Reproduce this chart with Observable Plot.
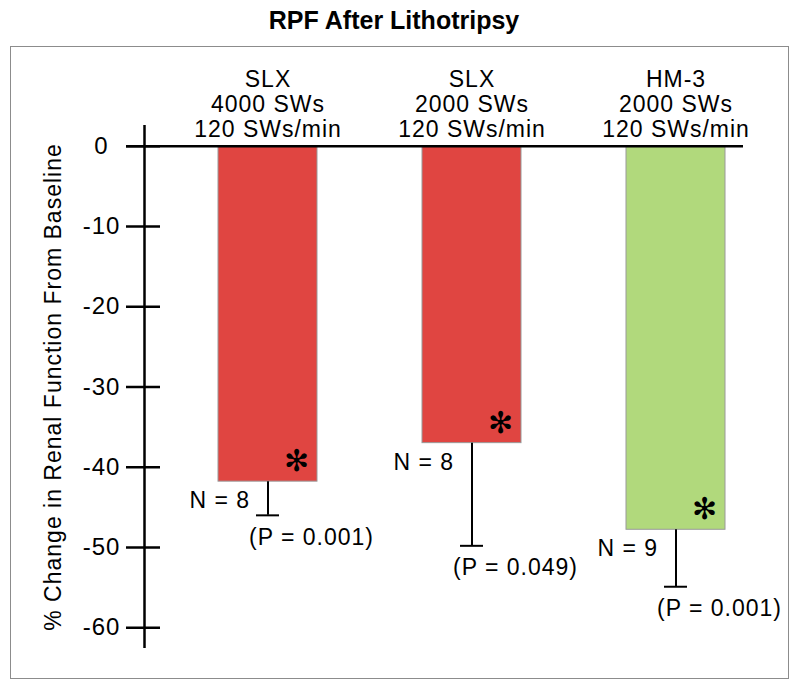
<!DOCTYPE html>
<html><head><meta charset="utf-8">
<script src="https://cdn.jsdelivr.net/npm/d3@7"></script>
<script src="https://cdn.jsdelivr.net/npm/@observablehq/plot@0.6"></script>
<style>
body{margin:0;background:#fff;}
#wrap{position:relative;width:800px;height:690px;font-family:"Liberation Sans",Arial,Helvetica,sans-serif;overflow:hidden;}
#title{position:absolute;left:-6px;top:8px;width:800px;text-align:center;font-size:25px;line-height:25px;font-weight:bold;letter-spacing:0;color:#000;}
#box{position:absolute;left:10px;top:46px;width:779px;height:633px;border:1.5px solid #8c8c8c;box-sizing:border-box;}
#chart{position:absolute;left:0;top:0;}
</style></head>
<body><div id="wrap"><div id="title">RPF After Lithotripsy</div><div id="box"></div><div id="chart"></div></div>
<script>
// ---- data ----
const machines = ["SLX", "SLX", "HM-3"];
const doses = ["4000 SWs", "2000 SWs", "2000 SWs"];
const rates = ["120 SWs/min", "120 SWs/min", "120 SWs/min"];
const means = [-41.8, -37.0, -47.8];
const errLow = [-46.0, -49.8, -54.9];
const nLabels = ["N = 8", "N = 8", "N = 9"];
const pLabels = ["(P = 0.001)", "(P = 0.049)", "(P = 0.001)"];
const sigMarks = ["\u273B", "\u273B", "\u273B"];
const barColors = ["#e04541", "#e04541", "#b1d97c"];
const yTicks = [0, -10, -20, -30, -40, -50, -60];
const yLabel = "% Change in Renal Function From Baseline";

const groups = machines.map((m, i) => `${m}\n${doses[i]}\n${rates[i]}`);
const data = groups.map((g, i) => ({group: g, mean: means[i], low: errLow[i], n: nLabels[i], p: pLabels[i], sig: sigMarks[i], color: barColors[i]}));

const W = 800, H = 690, ML = 144, MR = 57, MT = 125, MB = 42;
const font = '"Liberation Sans", Arial, Helvetica, sans-serif';

const chart = Plot.plot({
  width: W, height: H,
  marginLeft: ML, marginRight: MR, marginTop: MT, marginBottom: MB,
  style: {fontFamily: font, fontSize: "23px", background: "transparent", color: "#000", letterSpacing: "1px", overflow: "visible"},
  x: {type: "band", domain: groups, range: [165, 777], paddingInner: 0.515, paddingOuter: 0.2575, axis: null},
  y: {domain: [-62.6, 2.6], axis: null},
  color: {type: "identity"},
  marks: [
    Plot.barY(data, {x: "group", y: "mean", fill: "color", stroke: "#999", strokeWidth: 1}),
    Plot.ruleX(data, {x: "group", y1: "mean", y2: "low", stroke: "#000", strokeWidth: 2}),
    Plot.tickY(data, {x: "group", y: "low", stroke: "#000", strokeWidth: 2, insetLeft: 38, insetRight: 38}),
    Plot.ruleY([0], {stroke: "#000", strokeWidth: 2.5, insetLeft: -18}),
    Plot.ruleY(yTicks, {stroke: "#000", strokeWidth: 2.5, insetLeft: -18, insetRight: 583}),
    Plot.ruleX([0], {x: null, stroke: "#000", strokeWidth: 2.5, dx: -(W - ML - MR) / 2}),
    Plot.axisY({ticks: yTicks, tickSize: 0, tickPadding: 43, textAnchor: "middle", tickFormat: d => String(d), fontSize: 24}),
    Plot.text(data, {x: "group", text: "group", frameAnchor: "top", lineAnchor: "bottom", lineHeight: 1.09, dy: 11.5, fontSize: 23}),
    Plot.text(data, {x: "group", y: "mean", text: "sig", dx: 29, dy: -20, fontSize: 30, fontWeight: "bold", fontFamily: "DejaVu Sans"}),
    Plot.text(data, {x: "group", y: "mean", text: "n", textAnchor: "end", dx: -18, dy: 19, fontSize: 23}),
    Plot.text(data, {x: "group", y: "low", text: "p", textAnchor: "start", dx: -19, dy: 22, fontSize: 23}),
    Plot.text([yLabel], {frameAnchor: "left", textAnchor: "middle", rotate: -90, dx: -91, fontSize: 23})
  ]
});
document.getElementById("chart").appendChild(chart);
</script>
</body></html>
